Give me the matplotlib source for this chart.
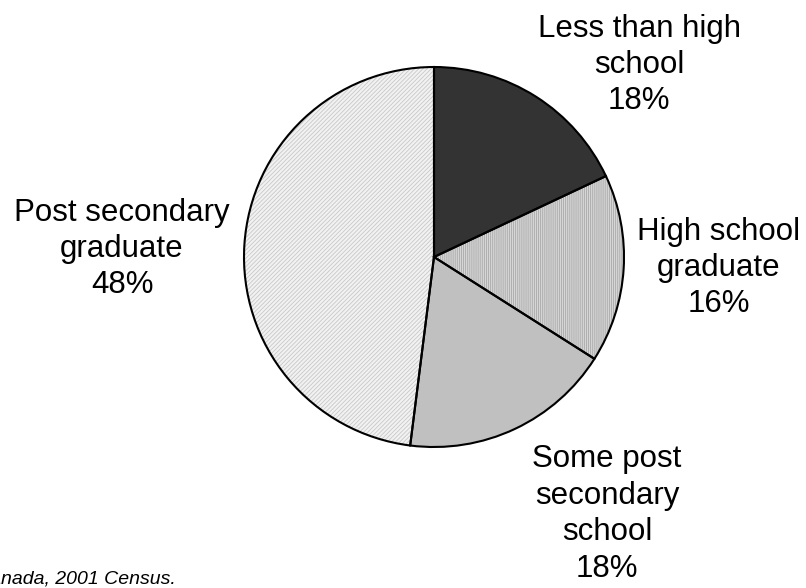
import matplotlib
matplotlib.use("Agg")
import matplotlib.pyplot as plt

# Highest level of schooling, shares in percent
categories = ["Less than high\nschool", "High school\ngraduate",
              "Some post\nsecondary\nschool", "Post secondary\ngraduate"]
shares = [18, 16, 18, 48]
source_note = "Source: Statistics Canada, 2001 Census."

face_colors = ["#333333", "#d6d6d6", "#c0c0c0", "#f2f2f2"]
hatch_colors = ["#333333", "#a8a8a8", "#c0c0c0", "#c8c8c8"]
hatches = [None, "|" * 8, None, "/" * 8]
label_pos = [(639, 65), (719, 268), (607, 514), (122, 249)]

plt.rcParams["font.family"] = ["Liberation Sans", "DejaVu Sans"]
plt.rcParams["hatch.linewidth"] = 0.6

W, H = 806, 588
fig = plt.figure(figsize=(W / 100, H / 100), dpi=100)
ax = fig.add_axes([0, 0, 1, 1])

center = (434, H - 257)
radius = 190

# filled wedges with fine textures
wedges, _ = ax.pie(shares, startangle=90, counterclock=False,
                   center=center, radius=radius, colors=face_colors,
                   wedgeprops=dict(linewidth=0), frame=True)
for w, hc, hp in zip(wedges, hatch_colors, hatches):
    if hp:
        w.set_hatch(hp)
        w.set_edgecolor(hc)
        w.set_linewidth(0)

# black outlines on top
ax.pie(shares, startangle=90, counterclock=False, center=center,
       radius=radius, colors=["none"] * len(shares),
       wedgeprops=dict(linewidth=1.5, edgecolor="black", fill=False),
       frame=True)
ax.set_xlim(0, W)
ax.set_ylim(0, H)
ax.set_aspect("equal")
ax.axis("off")

for name, val, (x, y) in zip(categories, shares, label_pos):
    ax.text(x, H - y, f"{name}\n{val}%", ha="center", va="center",
            fontsize=22.5, linespacing=1.28)

ax.text(176, H - 579, source_note, ha="right", va="center",
        fontsize=14, style="italic")

fig.savefig("out.png", dpi=100)
